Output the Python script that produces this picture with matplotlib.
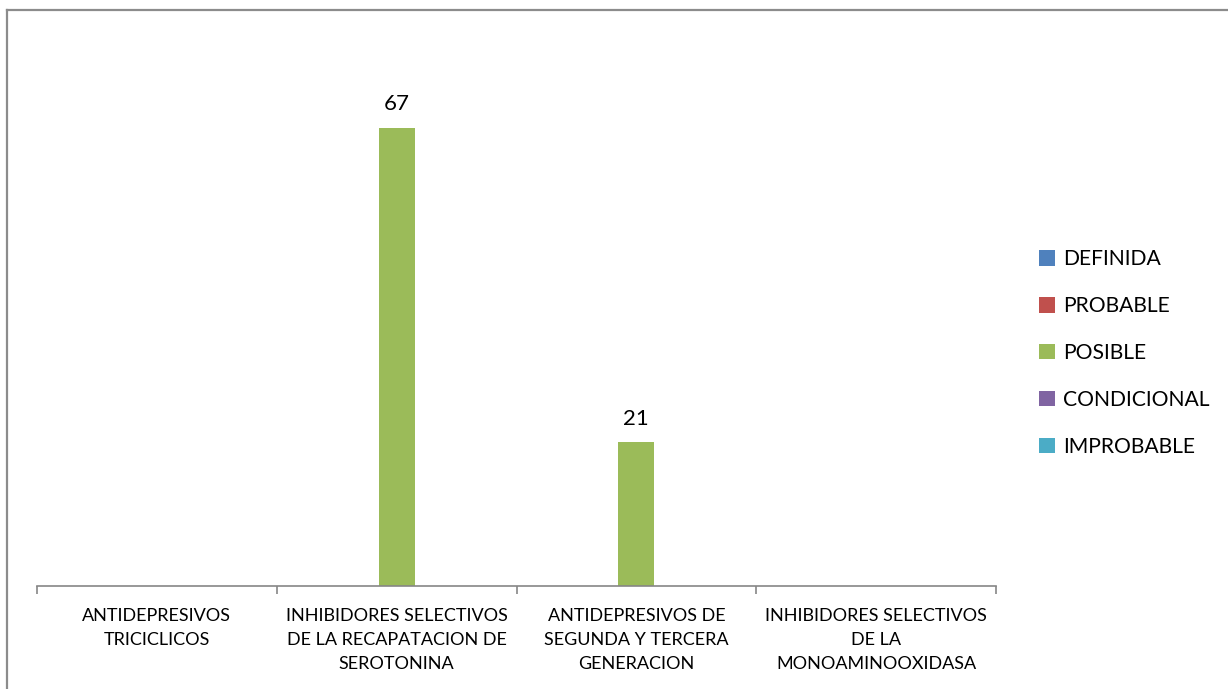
import matplotlib.pyplot as plt
from matplotlib.lines import Line2D
import numpy as np

plt.rcParams['font.family'] = ['Lato', 'DejaVu Sans']

categories = ["ANTIDEPRESIVOS\nTRICICLICOS",
              "INHIBIDORES SELECTIVOS\nDE LA RECAPATACION DE\nSEROTONINA",
              "ANTIDEPRESIVOS DE\nSEGUNDA Y TERCERA\nGENERACION",
              "INHIBIDORES SELECTIVOS\nDE LA\nMONOAMINOOXIDASA"]
series = ["DEFINIDA", "PROBABLE", "POSIBLE", "CONDICIONAL", "IMPROBABLE"]
definida = [0, 0, 0, 0]
probable = [0, 0, 0, 0]
posible = [0, 67, 21, 0]
condicional = [0, 0, 0, 0]
improbable = [0, 0, 0, 0]
colors = ["#4F81BD", "#C0504D", "#9BBB59", "#8064A2", "#4BACC6"]

values = [definida, probable, posible, condicional, improbable]

fig = plt.figure(figsize=(12.28, 6.89), dpi=100)
ax = fig.add_axes([37 / 1228, 1 - 586 / 689, 959 / 1228, 547 / 689])

x = np.arange(len(categories))
w = 0.15
for i, (name, vals, c) in enumerate(zip(series, values, colors)):
    bars = ax.bar(x + (i - 2) * w, vals, w, color=c, label=name)
    for b, v in zip(bars, vals):
        if v:
            ax.text(b.get_x() + b.get_width() / 2, v + 2.0, str(v),
                    ha='center', va='bottom', fontsize=16)

ax.set_xlim(-0.5, 3.5)
ax.set_ylim(0, 80)
ax.set_yticks([])
for s in ['top', 'right', 'left']:
    ax.spines[s].set_visible(False)
ax.spines['bottom'].set_color('#868686')
ax.spines['bottom'].set_linewidth(1.2)

# boundaries get the tick marks, centres get the labels
ax.set_xticks(np.arange(-0.5, 4, 1))
ax.set_xticklabels([])
ax.tick_params(axis='x', which='major', length=6, color='#868686', width=1.2)
ax.set_xticks(x, minor=True)
ax.set_xticklabels(categories, minor=True, fontsize=13, linespacing=1.62)
ax.tick_params(axis='x', which='minor', length=0, pad=16)

fig.legend(loc='upper left', bbox_to_anchor=(1031 / 1228, 1 - 241 / 689),
           frameon=False, fontsize=15.2, handlelength=0.75, handleheight=0.75,
           handletextpad=0.35, labelspacing=1.27, borderaxespad=0)

# outer frame (only top and left edges show)
fig.add_artist(Line2D([6.5 / 1228, 6.5 / 1228], [0, 1 - 9.5 / 689],
                      transform=fig.transFigure, color='#8c8c8c', lw=1.6))
fig.add_artist(Line2D([6.5 / 1228, 1], [1 - 9.5 / 689, 1 - 9.5 / 689],
                      transform=fig.transFigure, color='#8c8c8c', lw=1.6))

fig.savefig('out.png', dpi=100)
